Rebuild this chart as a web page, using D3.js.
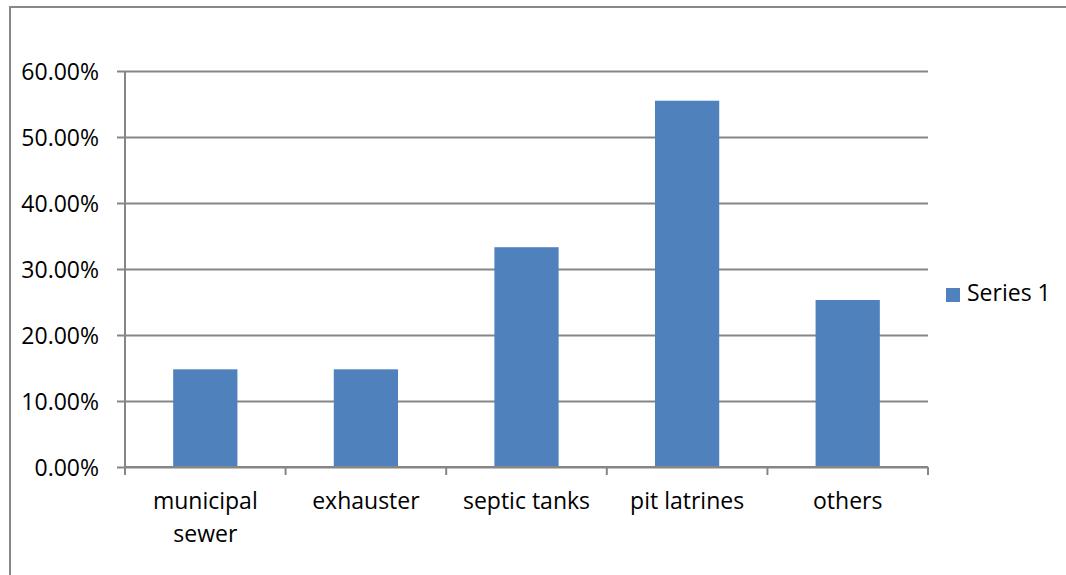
<!DOCTYPE html>
<html>
<head>
<meta charset="utf-8">
<script src="https://cdn.jsdelivr.net/npm/d3@7"></script>
<style>
  body { margin: 0; background: #fff; }
  svg text { font-family: "Open Sans", "Noto Sans", sans-serif; fill: #000; }
</style>
</head>
<body>
<div id="chart"></div>
<script>
const categories = [['municipal', 'sewer'], ['exhauster'], ['septic tanks'], ['pit latrines'], ['others']];
const series1 = [0.148, 0.148, 0.333, 0.555, 0.253];
const yTicks = [0, 0.1, 0.2, 0.3, 0.4, 0.5, 0.6];
const seriesName = 'Series 1';

let width = 1066,
    height = 575;

let margin = { left: 125, right: 138, top: 71, bottom: 108 };

let svg = d3.select('#chart').append('svg')
  .attr('width', width)
  .attr('height', height)
  .style('display', 'block');

// outer chart border (runs off right and bottom)
svg.append('path')
  .attr('d', 'M10,' + (height + 5) + 'V7H' + (width + 5))
  .attr('fill', 'none')
  .attr('stroke', '#888')
  .attr('stroke-width', 2);

let x = d3.scaleBand()
  .domain(d3.range(categories.length))
  .range([margin.left, width - margin.right])
  .paddingInner(0.6)
  .paddingOuter(0.3);

let xBand = d3.scaleBand()
  .domain(d3.range(categories.length))
  .range([margin.left, width - margin.right]);

let y = d3.scaleLinear()
  .domain([0, 0.6])
  .range([height - margin.bottom, margin.top]);

// gridlines + y ticks
let yAxis = svg.append('g')
  .attr('transform', 'translate(' + margin.left + ',0)')
  .call(d3.axisLeft(y)
    .tickValues(yTicks)
    .tickSize(8)
    .tickFormat(d => d3.format('.2f')(d * 100) + '%'));

yAxis.select('.domain').remove();
yAxis.selectAll('.tick line')
  .attr('x2', width - margin.right - margin.left)
  .attr('x1', -8)
  .attr('stroke', '#868686')
  .attr('stroke-width', 2);
yAxis.selectAll('.tick text')
  .style('font-size', '23px')
  .attr('x', -26)
  .attr('dy', '0.35em');

// bars
svg.append('g').selectAll('rect')
  .data(series1)
  .enter().append('rect')
    .attr('x', (d, i) => x(i))
    .attr('y', d => y(d))
    .attr('width', x.bandwidth())
    .attr('height', d => y(0) - y(d))
    .attr('fill', '#4f81bd');

// x axis line and category ticks
let base = y(0);
svg.append('line')
  .attr('x1', margin.left).attr('x2', width - margin.right)
  .attr('y1', base).attr('y2', base)
  .attr('stroke', '#868686').attr('stroke-width', 2);

svg.append('line')
  .attr('x1', margin.left).attr('x2', margin.left)
  .attr('y1', margin.top).attr('y2', base + 8)
  .attr('stroke', '#868686').attr('stroke-width', 2);

svg.append('g').selectAll('line')
  .data(d3.range(1, categories.length + 1))
  .enter().append('line')
    .attr('x1', i => xBand(i - 1) + xBand.bandwidth())
    .attr('x2', i => xBand(i - 1) + xBand.bandwidth())
    .attr('y1', base)
    .attr('y2', base + 8)
    .attr('stroke', '#868686')
    .attr('stroke-width', 2);

// category labels
let labels = svg.append('g').selectAll('text')
  .data(categories)
  .enter().append('text')
    .attr('text-anchor', 'middle')
    .style('font-size', '23px')
    .attr('transform', (d, i) => 'translate(' + (xBand(i) + xBand.bandwidth() / 2) + ',' + (base + 42) + ')');

labels.selectAll('tspan')
  .data(d => d)
  .enter().append('tspan')
    .attr('x', 0)
    .attr('y', (d, j) => j * 33)
    .text(d => d);

// legend
let legend = svg.append('g').attr('transform', 'translate(946,288)');
legend.append('rect')
  .attr('width', 14).attr('height', 14)
  .attr('fill', '#4f81bd');
legend.append('text')
  .attr('x', 21).attr('y', 13)
  .style('font-size', '23px')
  .text(seriesName);
</script>
</body>
</html>
